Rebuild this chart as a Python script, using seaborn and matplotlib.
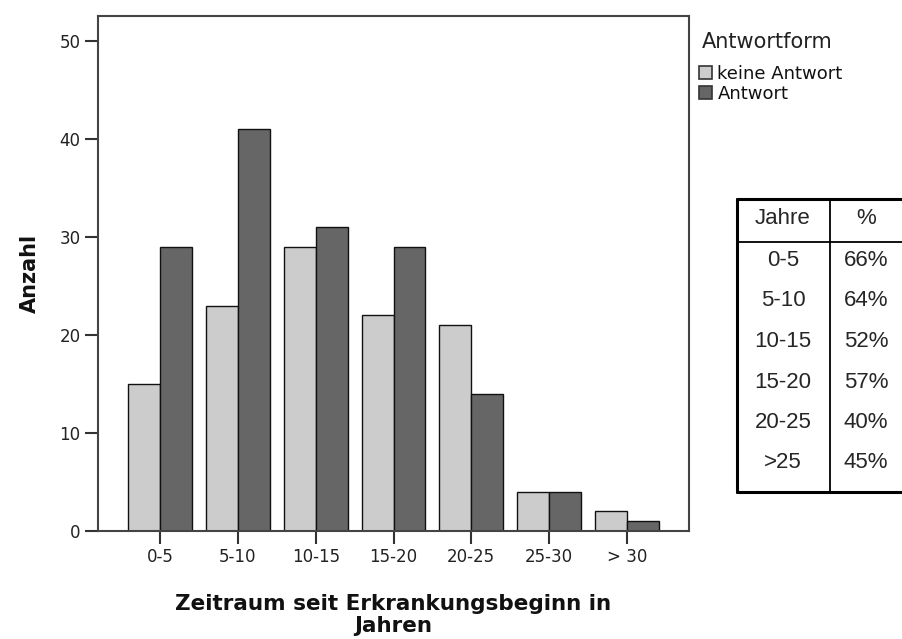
import matplotlib
matplotlib.use("Agg")
import matplotlib.pyplot as plt
import seaborn as sns
import pandas as pd
from matplotlib.lines import Line2D

categories = ["0-5", "5-10", "10-15", "15-20", "20-25", "25-30", "> 30"]
keine_antwort = [15, 23, 29, 22, 21, 4, 2]
antwort = [29, 41, 31, 29, 14, 4, 1]
series_names = ["keine Antwort", "Antwort"]
colors = ["#cccccc", "#666666"]

table_years = ["0-5", "5-10", "10-15", "15-20", "20-25", ">25"]
table_pct = ["66%", "64%", "52%", "57%", "40%", "45%"]

df = pd.DataFrame({
    "Zeitraum": categories * 2,
    "Anzahl": keine_antwort + antwort,
    "Antwortform": [series_names[0]] * len(categories) + [series_names[1]] * len(categories),
})

sns.set_style("white")
plt.rcParams["font.family"] = ["DejaVu Sans"]

fig = plt.figure(figsize=(9.02, 6.39), dpi=100)
ax = fig.add_axes([98 / 902, 108 / 639, 591 / 902, 515.5 / 639])

sns.barplot(data=df, x="Zeitraum", y="Anzahl", hue="Antwortform",
            order=categories, hue_order=series_names, palette=colors,
            width=0.82, gap=0, edgecolor="#111111", linewidth=1.0,
            saturation=1, ax=ax, legend=False)

ax.set_xlim(-0.8, 6.8)
ax.set_ylim(0, 52.6)
ax.set_yticks([0, 10, 20, 30, 40, 50])
for sp in ax.spines.values():
    sp.set_color("#444444")
    sp.set_linewidth(1.5)
ax.tick_params(axis="both", direction="out", length=9.5, width=1.5, color="#333333",
               labelsize=12, labelcolor="#222222", pad=3, left=True, bottom=True)
ax.set_ylabel("Anzahl", fontsize=15, fontweight="bold", labelpad=14, color="#111111")
ax.set_xlabel("Zeitraum seit Erkrankungsbeginn in\nJahren", fontsize=15.5,
              fontweight="bold", labelpad=20, linespacing=1.12, color="#111111")

fig.text(702 / 902, 1 - 42 / 639, "Antwortform", fontsize=15, color="#222222",
         ha="left", va="center")
handles = [plt.Rectangle((0, 0), 1, 1, facecolor=c, edgecolor="#333333", linewidth=1.2)
           for c in colors]
leg = fig.legend(handles, series_names, loc="upper left",
                 bbox_to_anchor=(699 / 902, 1 - 65 / 639), frameon=False, fontsize=13,
                 handlelength=0.72, handleheight=0.72,
                 handletextpad=0.3, labelspacing=0.1, borderaxespad=0, borderpad=0)
for t in leg.get_texts():
    t.set_color("#111111")

# Table
def fx(px):
    return px / 902

def fy(py):
    return 1 - py / 639

tbl_left, tbl_div, tbl_right = 737, 830, 902
tbl_top, tbl_head, tbl_bottom = 199, 242, 492
fig.add_artist(Line2D([fx(tbl_left), fx(tbl_right)], [fy(tbl_top), fy(tbl_top)], color="black", lw=2.2))
fig.add_artist(Line2D([fx(tbl_left), fx(tbl_right)], [fy(tbl_bottom), fy(tbl_bottom)], color="black", lw=2.2))
fig.add_artist(Line2D([fx(tbl_left), fx(tbl_left)], [fy(tbl_top), fy(tbl_bottom)], color="black", lw=2.2))
fig.add_artist(Line2D([fx(tbl_div), fx(tbl_div)], [fy(tbl_top), fy(tbl_bottom)], color="black", lw=1.3))
fig.add_artist(Line2D([fx(tbl_left), fx(tbl_right)], [fy(tbl_head), fy(tbl_head)], color="black", lw=1.3))

tfont = dict(family="Liberation Sans", fontsize=16, ha="center", va="center")
fig.text(fx(783), fy(218), "Jahre", **tfont)
fig.text(fx(866), fy(218), "%", **tfont)
row_y = [260, 301, 342, 382, 423, 463]
for yy, a, b in zip(row_y, table_years, table_pct):
    fig.text(fx(783), fy(yy), a, **tfont)
    fig.text(fx(866), fy(yy), b, **tfont)

fig.savefig("out.png", dpi=100)
